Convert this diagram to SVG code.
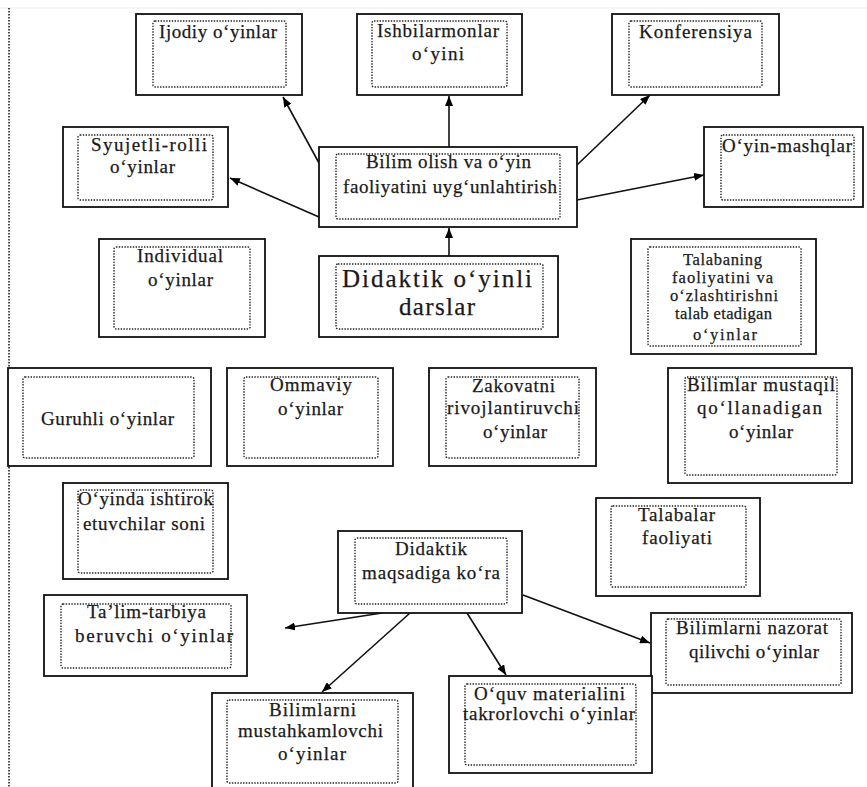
<svg xmlns="http://www.w3.org/2000/svg" width="867" height="787" viewBox="0 0 867 787">
<defs>
<marker id="ah" viewBox="0 0 10 8" refX="10" refY="4" markerWidth="10" markerHeight="8" markerUnits="userSpaceOnUse" orient="auto">
<path d="M0,0 L10,4 L0,8 z" fill="#000"/>
</marker>
</defs>
<style>
.o{fill:#fff;stroke:#111;stroke-width:1.8}
.i{fill:none;stroke:#222;stroke-width:1.4;stroke-dasharray:1.4 1.4}
text{font-size:19px;fill:#1a1a1a;stroke:#1a1a1a;stroke-width:0.25;text-anchor:middle}
text.s{font-size:16.5px}
text.b{font-size:25px}
.c{stroke:#111;stroke-width:1.6;fill:none;marker-end:url(#ah)}
</style>
<rect width="867" height="787" fill="#fff"/>
<line x1="0" y1="8" x2="867" y2="8" stroke="#ececec" stroke-width="1"/>
<line x1="9" y1="8" x2="9" y2="787" stroke="#222" stroke-width="1.6" stroke-dasharray="1.5 1.5"/>

<g id="connectors">
<line class="c" x1="319" y1="163" x2="283" y2="97"/>
<line class="c" x1="319" y1="217" x2="230" y2="178"/>
<line class="c" x1="449" y1="147" x2="449" y2="96"/>
<line class="c" x1="577" y1="165" x2="650" y2="95"/>
<line class="c" x1="577" y1="200" x2="704" y2="175"/>
<line class="c" x1="449" y1="256" x2="449" y2="228"/>
<line class="c" x1="382" y1="613" x2="285" y2="628"/>
<line class="c" x1="410" y1="613" x2="322" y2="692"/>
<line class="c" x1="467" y1="613" x2="506" y2="675"/>
<line class="c" x1="523" y1="595" x2="650" y2="643"/>
</g>

<g font-family="'Liberation Serif', 'Times New Roman', Times, serif">
<g id="ijodiy">
<rect class="o" x="136" y="14" width="166" height="81"/>
<rect class="i" x="153" y="21" width="133" height="66" rx="2"/>
<text x="218" y="38" textLength="118" lengthAdjust="spacing">Ijodiy o‘yinlar</text>
</g>
<g id="ishbilarmonlar">
<rect class="o" x="357" y="14" width="165" height="81"/>
<rect class="i" x="372" y="21" width="135" height="66" rx="2"/>
<text x="438" y="37" textLength="122" lengthAdjust="spacing">Ishbilarmonlar</text>
<text x="438" y="60" textLength="52" lengthAdjust="spacing">o‘yini</text>
</g>
<g id="konferensiya">
<rect class="o" x="612" y="14" width="167" height="81"/>
<rect class="i" x="629" y="21" width="133" height="66" rx="2"/>
<text x="695.5" y="38" textLength="113" lengthAdjust="spacing">Konferensiya</text>
</g>
<g id="syujetli">
<rect class="o" x="63" y="127" width="165" height="80"/>
<rect class="i" x="78" y="135" width="135" height="65" rx="2"/>
<text x="149" y="151" textLength="116" lengthAdjust="spacing">Syujetli-rolli</text>
<text x="142.5" y="173" textLength="65" lengthAdjust="spacing">o‘yinlar</text>
</g>
<g id="bilim-olish">
<rect class="o" x="319" y="147" width="258" height="80"/>
<rect class="i" x="336" y="154" width="224" height="65" rx="2"/>
<text x="448.5" y="168" textLength="165" lengthAdjust="spacing">Bilim olish va o‘yin</text>
<text x="450" y="193" textLength="214" lengthAdjust="spacing">faoliyatini uyg‘unlahtirish</text>
</g>
<g id="oyin-mashqlar">
<rect class="o" x="704" y="127" width="159" height="80"/>
<rect class="i" x="721" y="135" width="133" height="65" rx="2"/>
<text x="787" y="152" textLength="130" lengthAdjust="spacing">O‘yin-mashqlar</text>
</g>
<g id="individual">
<rect class="o" x="99" y="239" width="166" height="98"/>
<rect class="i" x="114" y="247" width="136" height="82" rx="2"/>
<text x="180" y="262" textLength="86" lengthAdjust="spacing">Individual</text>
<text x="180.5" y="286" textLength="65" lengthAdjust="spacing">o‘yinlar</text>
</g>
<g id="didaktik-darslar">
<rect class="o" x="319" y="256" width="239" height="81"/>
<rect class="i" x="336" y="264" width="207" height="65" rx="2"/>
<text class="b" x="437" y="287" textLength="190" lengthAdjust="spacing">Didaktik o‘yinli</text>
<text class="b" x="437" y="315" textLength="76" lengthAdjust="spacing">darslar</text>
</g>
<g id="talabaning">
<rect class="o" x="631" y="239" width="185" height="115"/>
<rect class="i" x="648" y="247" width="153" height="99" rx="2"/>
<text class="s" x="722.5" y="265" textLength="79" lengthAdjust="spacing">Talabaning</text>
<text class="s" x="722.5" y="283" textLength="101" lengthAdjust="spacing">faoliyatini va</text>
<text class="s" x="724" y="301" textLength="108" lengthAdjust="spacing">o‘zlashtirishni</text>
<text class="s" x="723.5" y="319" textLength="97" lengthAdjust="spacing">talab etadigan</text>
<text class="s" x="725" y="340" textLength="64" lengthAdjust="spacing">o‘yinlar</text>
</g>
<g id="guruhli">
<rect class="o" x="8" y="368" width="203" height="98"/>
<rect class="i" x="23" y="377" width="171" height="81" rx="2"/>
<text x="107.5" y="425" textLength="133" lengthAdjust="spacing">Guruhli o‘yinlar</text>
</g>
<g id="ommaviy">
<rect class="o" x="227" y="368" width="166" height="98"/>
<rect class="i" x="244" y="377" width="134" height="81" rx="2"/>
<text x="311" y="391" textLength="82" lengthAdjust="spacing">Ommaviy</text>
<text x="310.5" y="415" textLength="65" lengthAdjust="spacing">o‘yinlar</text>
</g>
<g id="zakovatni">
<rect class="o" x="429" y="368" width="167" height="98"/>
<rect class="i" x="446" y="377" width="133" height="81" rx="2"/>
<text x="513.5" y="392" textLength="83" lengthAdjust="spacing">Zakovatni</text>
<text x="513" y="414" textLength="132" lengthAdjust="spacing">rivojlantiruvchi</text>
<text x="515" y="438" textLength="64" lengthAdjust="spacing">o‘yinlar</text>
</g>
<g id="bilimlar-mustaqil">
<rect class="o" x="668" y="368" width="184" height="115"/>
<rect class="i" x="685" y="377" width="152" height="98" rx="2"/>
<text x="761" y="391" textLength="148" lengthAdjust="spacing">Bilimlar mustaqil</text>
<text x="759.5" y="414" textLength="125" lengthAdjust="spacing">qo‘llanadigan</text>
<text x="761" y="438" textLength="64" lengthAdjust="spacing">o‘yinlar</text>
</g>
<g id="ishtirokchilar">
<rect class="o" x="63" y="483" width="165" height="96"/>
<rect class="i" x="78" y="490" width="135" height="83" rx="2"/>
<text x="145.5" y="505" textLength="135" lengthAdjust="spacing">O‘yinda ishtirok</text>
<text x="144" y="530" textLength="122" lengthAdjust="spacing">etuvchilar soni</text>
</g>
<g id="didaktik-maqsad">
<rect class="o" x="338" y="531" width="184" height="82"/>
<rect class="i" x="355" y="538" width="152" height="66" rx="2"/>
<text x="431" y="555" textLength="72" lengthAdjust="spacing">Didaktik</text>
<text x="431" y="579" textLength="138" lengthAdjust="spacing">maqsadiga ko‘ra</text>
</g>
<g id="talabalar">
<rect class="o" x="596" y="498" width="164" height="98"/>
<rect class="i" x="611" y="506" width="135" height="81" rx="2"/>
<text x="676.5" y="521" textLength="77" lengthAdjust="spacing">Talabalar</text>
<text x="677" y="544" textLength="70" lengthAdjust="spacing">faoliyati</text>
</g>
<g id="talim-tarbiya">
<rect class="o" x="44" y="595" width="203" height="81"/>
<rect class="i" x="61" y="604" width="170" height="64" rx="2"/>
<text x="146.5" y="618" textLength="119" lengthAdjust="spacing">Ta’lim-tarbiya</text>
<text x="154" y="642" textLength="158" lengthAdjust="spacing">beruvchi o‘yinlar</text>
</g>
<g id="nazorat">
<rect class="o" x="651" y="613" width="201" height="80"/>
<rect class="i" x="666" y="619" width="175" height="66" rx="2"/>
<text x="752" y="634" textLength="152" lengthAdjust="spacing">Bilimlarni nazorat</text>
<text x="754" y="658" textLength="130" lengthAdjust="spacing">qilivchi o‘yinlar</text>
</g>
<g id="mustahkamlovchi">
<rect class="o" x="212" y="693" width="201" height="100"/>
<rect class="i" x="227" y="700" width="171" height="83" rx="2"/>
<text x="312.5" y="716" textLength="87" lengthAdjust="spacing">Bilimlarni</text>
<text x="310.5" y="737" textLength="145" lengthAdjust="spacing">mustahkamlovchi</text>
<text x="312" y="760" textLength="68" lengthAdjust="spacing">o‘yinlar</text>
</g>
<g id="oquv-materialini">
<rect class="o" x="449" y="676" width="203" height="97"/>
<rect class="i" x="465" y="684" width="171" height="81" rx="2"/>
<text x="549.5" y="700" textLength="151" lengthAdjust="spacing">O‘quv materialini</text>
<text x="549" y="720" textLength="172" lengthAdjust="spacing">takrorlovchi o‘yinlar</text>
</g>
</g>
</svg>
